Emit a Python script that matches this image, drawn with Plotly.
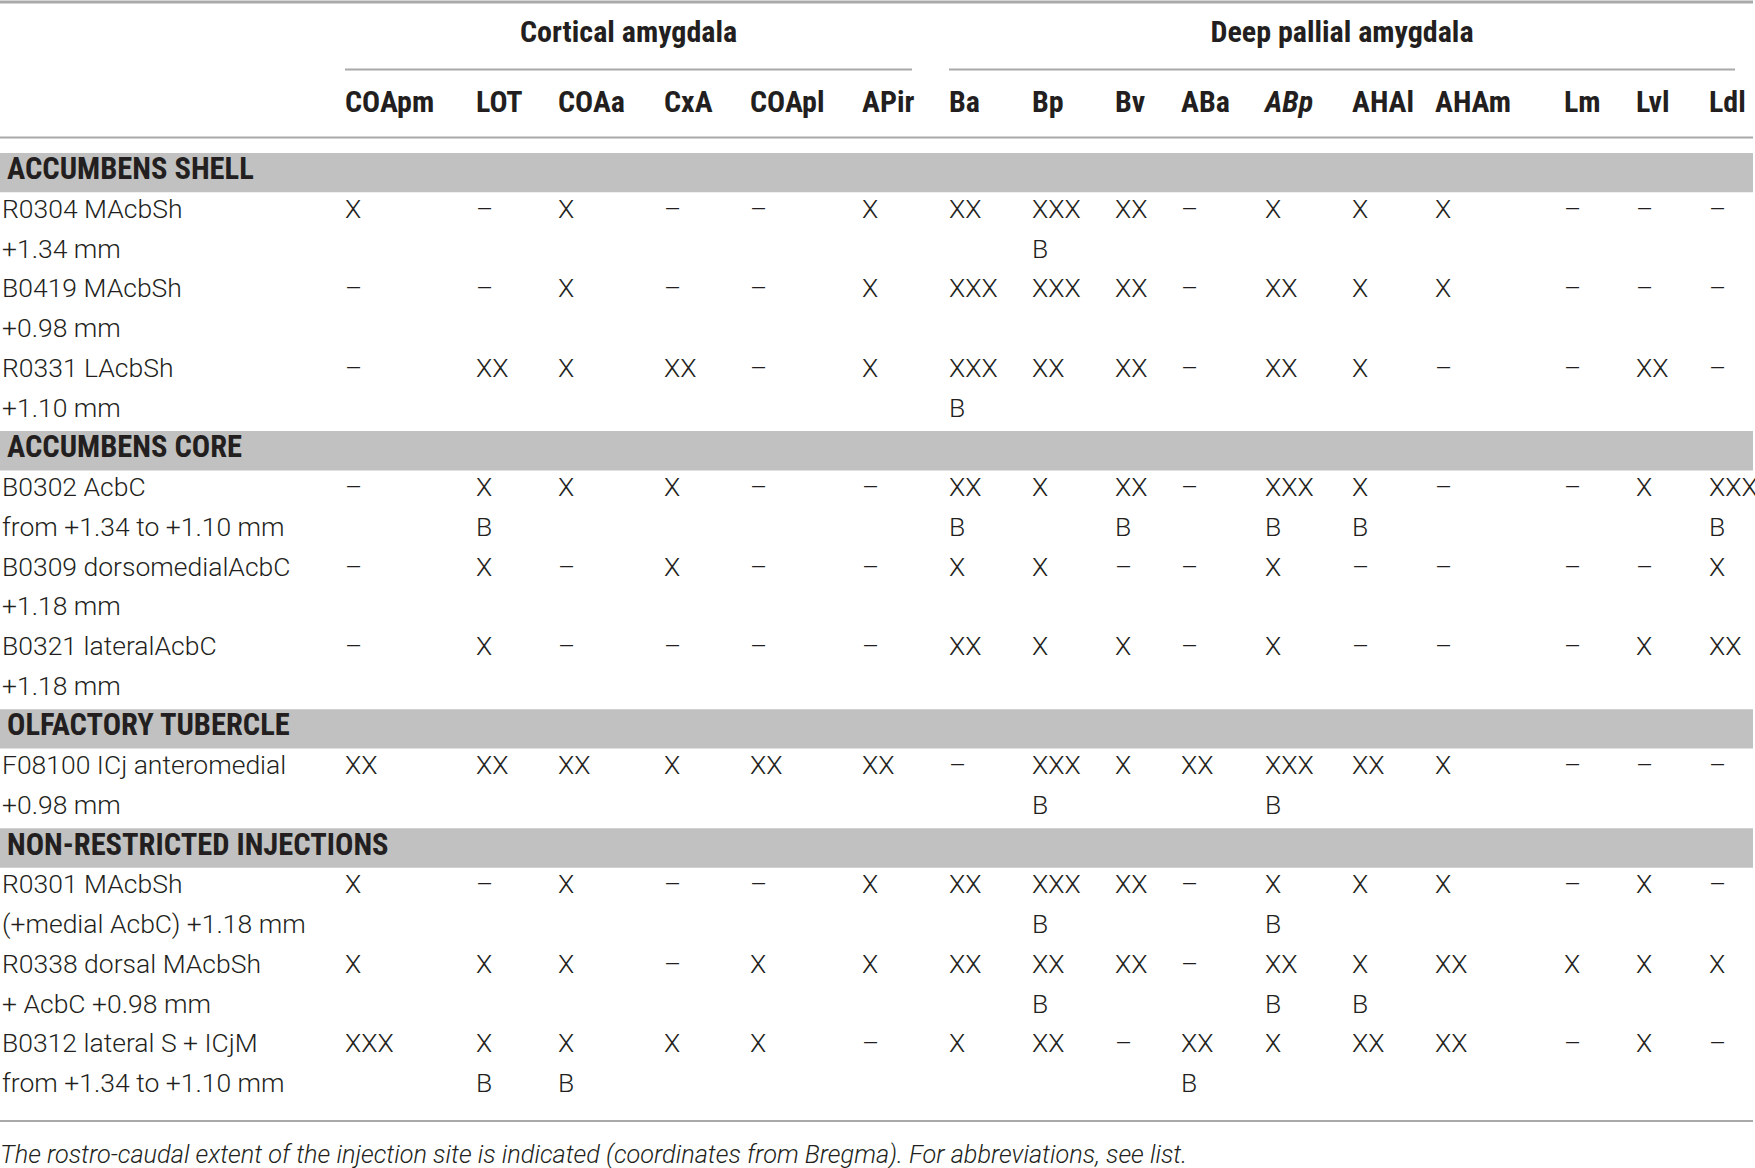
import plotly.graph_objects as go

# ---- data -----------------------------------------------------------------
COLUMNS = ["COApm", "LOT", "COAa", "CxA", "COApl", "APir", "Ba", "Bp", "Bv",
           "ABa", "<i>ABp</i>", "AHAl", "AHAm", "Lm", "Lvl", "Ldl"]
GROUPS = ["Cortical amygdala", "Deep pallial amygdala"]

SECTIONS = ["ACCUMBENS SHELL", "ACCUMBENS CORE", "OLFACTORY TUBERCLE",
            "NON-RESTRICTED INJECTIONS"]

# one entry per injection: section index, label line 1, label line 2
ROW_SECTION = [0, 0, 0, 1, 1, 1, 2, 3, 3, 3]
ROW_LABEL_1 = ["R0304 MAcbSh", "B0419 MAcbSh", "R0331 LAcbSh", "B0302 AcbC",
               "B0309 dorsomedialAcbC", "B0321 lateralAcbC",
               "F08100 ICj anteromedial", "R0301 MAcbSh", "R0338 dorsal MAcbSh",
               "B0312 lateral S + ICjM"]
ROW_LABEL_2 = ["+1.34 mm", "+0.98 mm", "+1.10 mm", "from +1.34 to +1.10 mm",
               "+1.18 mm", "+1.18 mm", "+0.98 mm", "(+medial AcbC) +1.18 mm",
               "+ AcbC +0.98 mm", "from +1.34 to +1.10 mm"]

D = "–"
ROW_DENSITY = [
    ["X", D, "X", D, D, "X", "XX", "XXX", "XX", D, "X", "X", "X", D, D, D],
    [D, D, "X", D, D, "X", "XXX", "XXX", "XX", D, "XX", "X", "X", D, D, D],
    [D, "XX", "X", "XX", D, "X", "XXX", "XX", "XX", D, "XX", "X", D, D, "XX", D],
    [D, "X", "X", "X", D, D, "XX", "X", "XX", D, "XXX", "X", D, D, "X", "XXX"],
    [D, "X", D, "X", D, D, "X", "X", D, D, "X", D, D, D, D, "X"],
    [D, "X", D, D, D, D, "XX", "X", "X", D, "X", D, D, D, "X", "XX"],
    ["XX", "XX", "XX", "X", "XX", "XX", D, "XXX", "X", "XX", "XXX", "XX", "X", D, D, D],
    ["X", D, "X", D, D, "X", "XX", "XXX", "XX", D, "X", "X", "X", D, "X", D],
    ["X", "X", "X", D, "X", "X", "XX", "XX", "XX", D, "XX", "X", "XX", "X", "X", "X"],
    ["XXX", "X", "X", "X", "X", D, "X", "XX", D, "XX", "X", "XX", "XX", D, "X", D],
]
# second-line "B" marks, by column index
ROW_B = [[7], [], [6], [1, 6, 8, 10, 11, 15], [], [], [7, 10], [7, 10],
         [7, 10, 11], [1, 2, 9]]

CAPTION = ("The rostro-caudal extent of the injection site is indicated "
           "(coordinates from Bregma). For abbreviations, see list.")

# ---- layout constants -----------------------------------------------------
W, H = 1755, 1168
COL_X = [345, 476, 558, 664, 750, 862, 949, 1032, 1115, 1181, 1265, 1352,
         1435, 1564, 1636, 1709]
GROUP_SPAN = [(345, 912), (949, 1735)]
LABEL_X, BAND_X = 2, 7
RIGHT = 1753
Y_TOP, Y_BOTTOM = -4.25, 25.15      # body text lines are 1 unit apart
Y0 = 0.07                           # nudge of body lines below the grid
Y_GROUP, Y_HEAD = -3.37, -1.62
Y_RULE_TOP, Y_RULE_GROUP, Y_RULE_HEAD, Y_RULE_END = -4.2, -2.5, -0.79, 23.97
Y_CAPTION = 24.86

INK = "#231f20"
RULE = "#a9a9a9"
BAND = "#c1c1c1"
BODY_FONT = "Roboto"
HEAD_FONT = "Liberation Sans Narrow, Roboto Condensed, DejaVu Sans Condensed, sans-serif"

# ---- assemble text positions ---------------------------------------------
band_y, band_text = [], []
lab_x, lab_y, lab_t = [], [], []
cell_x, cell_y, cell_t = [], [], []
line = Y0
prev = None
for r, sec in enumerate(ROW_SECTION):
    if sec != prev:
        band_y.append(line)
        band_text.append(SECTIONS[sec])
        line += 1
        prev = sec
    lab_x += [LABEL_X, LABEL_X]
    lab_y += [line, line + 1]
    lab_t += [ROW_LABEL_1[r], ROW_LABEL_2[r]]
    for c, v in enumerate(ROW_DENSITY[r]):
        cell_x.append(COL_X[c])
        cell_y.append(line)
        cell_t.append(v)
    for c in ROW_B[r]:
        cell_x.append(COL_X[c])
        cell_y.append(line + 1)
        cell_t.append("B")
    line += 2

fig = go.Figure()

body = dict(family=BODY_FONT, size=26.5, color=INK, weight=300)
head = dict(family=HEAD_FONT, size=30, color=INK, weight="bold")

fig.add_trace(go.Scatter(
    x=lab_x, y=lab_y, text=lab_t, mode="text", textposition="middle right",
    textfont=body, hoverinfo="skip", cliponaxis=False))
fig.add_trace(go.Scatter(
    x=cell_x, y=cell_y, text=cell_t, mode="text", textposition="middle right",
    textfont=body, hoverinfo="skip", cliponaxis=False))
fig.add_trace(go.Scatter(
    x=[BAND_X] * len(band_y), y=band_y, text=band_text, mode="text",
    textposition="middle right", textfont={**head, "size": 30.5},
    hoverinfo="skip", cliponaxis=False))
fig.add_trace(go.Scatter(
    x=COL_X, y=[Y_HEAD] * len(COL_X), text=COLUMNS, mode="text",
    textposition="middle right", textfont=head, hoverinfo="skip",
    cliponaxis=False))
fig.add_trace(go.Scatter(
    x=[(a + b) / 2 for a, b in GROUP_SPAN], y=[Y_GROUP] * len(GROUPS),
    text=GROUPS, mode="text", textposition="middle center", textfont=head,
    hoverinfo="skip", cliponaxis=False))
fig.add_trace(go.Scatter(
    x=[0], y=[Y_CAPTION], text=[f"<i>{CAPTION}</i>"], mode="text",
    textposition="middle right",
    textfont=dict(family=BODY_FONT, size=25.3, color=INK, weight=300),
    hoverinfo="skip", cliponaxis=False))

shapes = []
for y in band_y:
    shapes.append(dict(type="rect", xref="x", yref="y", x0=0, x1=RIGHT,
                       y0=y - 0.47, y1=y + 0.52, fillcolor=BAND,
                       line=dict(width=0), layer="below"))
shapes.append(dict(type="line", xref="x", yref="y", x0=0, x1=RIGHT,
                   y0=Y_RULE_TOP, y1=Y_RULE_TOP, line=dict(color=RULE, width=3)))
for a, b in GROUP_SPAN:
    shapes.append(dict(type="line", xref="x", yref="y", x0=a, x1=b,
                       y0=Y_RULE_GROUP, y1=Y_RULE_GROUP,
                       line=dict(color=RULE, width=2)))
for y in (Y_RULE_HEAD, Y_RULE_END):
    shapes.append(dict(type="line", xref="x", yref="y", x0=0, x1=RIGHT,
                       y0=y, y1=y, line=dict(color=RULE, width=2)))

hidden = dict(visible=False, showgrid=False, zeroline=False, fixedrange=True)
fig.update_layout(
    width=W, height=H,
    margin=dict(l=0, r=0, t=0, b=0),
    paper_bgcolor="white", plot_bgcolor="white",
    showlegend=False,
    shapes=shapes,
    xaxis={**hidden, "range": [0, W]},
    yaxis={**hidden, "range": [Y_BOTTOM, Y_TOP]},
)

# the page's default body margin would push the table 8px off the corner
fig.write_html("out.html", config={"displayModeBar": False},
               post_script="document.body.style.margin='0';"
                           "document.body.style.overflow='hidden';")
